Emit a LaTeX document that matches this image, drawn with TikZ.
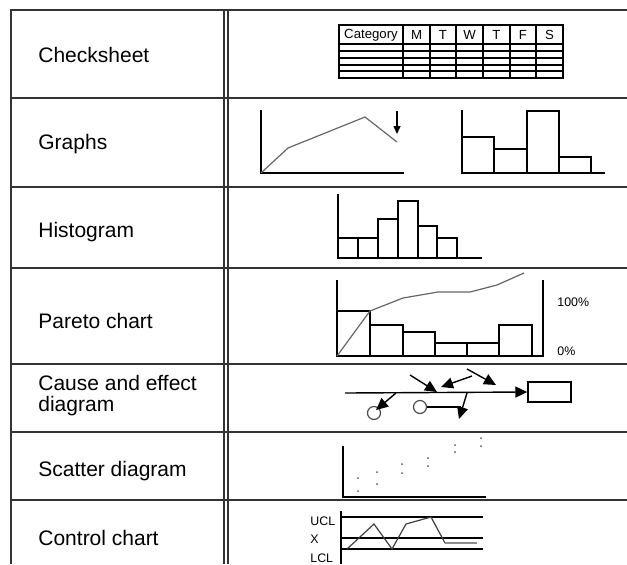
\documentclass[tikz,border=0pt]{standalone}
\usepackage{fontspec}
\setmainfont{Liberation Sans}
\usetikzlibrary{arrows.meta}

\tikzset{
  rowlabel/.style={anchor=west, inner sep=0pt, align=left, font=\fontsize{10.5}{10.5}\selectfont},
  headtext/.style={inner sep=0pt, font=\fontsize{6.6}{7}\selectfont},
  ticktext/.style={anchor=west, inner sep=0pt, font=\fontsize{6.2}{7}\selectfont},
  gridline/.style={line width=0.9pt, draw=black!80},
  chartline/.style={line width=0.7pt},
  curveline/.style={line width=0.6pt, draw=black!60},
  bigarrow/.style={line width=0.7pt, -{Triangle[length=6pt, width=5.5pt]}},
  smallarrow/.style={line width=0.7pt, -{Triangle[length=4pt, width=3.5pt]}},
}

\begin{document}
\begin{tikzpicture}[x=0.5pt, y=-0.5pt]
    \useasboundingbox (0,0) rectangle (627,564);
    % table frame
    \draw[gridline] (11,564) -- (11,10) -- (627,10);
    \draw[gridline] (224,10) -- (224,564);
    \draw[gridline] (228,10) -- (228,564);
    \foreach \y in {98,187,268,364,432,500}
        \draw[gridline] (11,\y) -- (627,\y);

    % row labels
    \node[rowlabel] (lblcheck) at (38,55) {Checksheet};
    \node[rowlabel] (lblgraph) at (38,144) {Graphs};
    \node[rowlabel] (lblhisto) at (38,232) {Histogram};
    \node[rowlabel] (lblpareto) at (38,321) {Pareto chart};
    \node[rowlabel] (lblcause) at (38,396) {Cause and effect\\diagram};
    \node[rowlabel] (lblscatter) at (38,471) {Scatter diagram};
    \node[rowlabel] (lblcontrol) at (38,538) {Control chart};

    % checksheet
    \draw[chartline] (339,25) rectangle (563,78);
    \foreach \x in {403,430,456,483,510,536}
        \draw[chartline] (\x,25) -- (\x,78);
    \foreach \y in {44,51,58,65,71}
        \draw[chartline] (339,\y) -- (563,\y);
    \node[headtext] (hcat) at (371,35) {Category};
    \node[headtext] (hmon) at (416.5,35) {M};
    \node[headtext] (htue) at (443,35) {T};
    \node[headtext] (hwed) at (469.5,35) {W};
    \node[headtext] (hthu) at (496.5,35) {T};
    \node[headtext] (hfri) at (523,35) {F};
    \node[headtext] (hsat) at (549.5,35) {S};

    % graphs: line graph
    \draw[chartline] (261,110) -- (261,173) -- (404,173);
    \draw[curveline] (261,173) -- (288,148) -- (365,117) -- (397,142);
    \draw[smallarrow] (397,111) -- (397,134);
    % graphs: bar graph
    \draw[chartline] (462,110) -- (462,173) -- (605,173);
    \draw[chartline] (462,173) rectangle (494,137);
    \draw[chartline] (494,173) rectangle (527,149);
    \draw[chartline] (527,173) rectangle (559,111);
    \draw[chartline] (559,173) rectangle (591,157);

    % histogram
    \draw[chartline] (338,194) -- (338,258) -- (482,258);
    \foreach \xa/\xb/\top in {338/358/238, 358/378/238, 378/398/219, 398/418/201, 418/437/226, 437/457/238}
        \draw[chartline] (\xa,258) rectangle (\xb,\top);

    % pareto chart
    \draw[chartline] (337,280) -- (337,356) -- (543,356) -- (543,280);
    \foreach \xa/\xb/\top in {337/370/311, 370/403/325, 403/435/332, 435/467/343, 467/499/343, 499/532/325}
        \draw[chartline] (\xa,356) rectangle (\xb,\top);
    \draw[curveline] (337,356) -- (370,311) -- (403,298) -- (438,292) -- (470,292) -- (497,285) -- (524,273);
    \node[ticktext] (pct100) at (557,302) {100\%};
    \node[ticktext] (pct0) at (557,351) {0\%};

    % cause and effect diagram
    \node[draw, line width=0.7pt, minimum width=21.5pt, minimum height=10pt, inner sep=0pt] (effect) at (549.5,392) {};
    \coordinate (tail) at (345,393);
    \draw[bigarrow] (tail) -- (effect.west);
    \node[draw, circle, line width=0.6pt, draw=black!70, minimum size=6.5pt, inner sep=0pt] (causea) at (374,413) {};
    \node[draw, circle, line width=0.6pt, draw=black!70, minimum size=6.5pt, inner sep=0pt] (causeb) at (420,407) {};
    \draw[bigarrow] (410,375) -- (437,392);
    \draw[bigarrow] (472,376) -- (441,387);
    \draw[bigarrow] (467,369) -- (496,385);
    \draw[bigarrow] (396,393) -- (376,410);
    \draw[chartline] (causeb.east) -- (461,407);
    \draw[bigarrow] (467,393) -- (459,419);

    % scatter diagram
    \draw[chartline] (343,446) -- (343,497) -- (486,497);
    \foreach \px/\py in {358/491, 358/478, 377/484, 377/472, 402/473, 402/464, 428/466, 428/458, 455/452, 455/445, 481/446, 481/438}
        \fill[black!65] (\px,\py) circle (0.5pt);

    % control chart
    \draw[chartline] (341,511) -- (341,564);
    \draw[chartline] (341,517) -- (483,517);
    \draw[chartline] (341,538) -- (483,538);
    \draw[chartline] (341,549) -- (483,549);
    \node[ticktext] (ucl) at (310,521) {UCL};
    \node[ticktext] (xbar) at (310,539) {X};
    \node[ticktext] (lcl) at (310,558) {LCL};
    \draw[curveline, draw=black!75] (347,549) -- (374,524) -- (392,549) -- (406,524) -- (431,517) -- (445,543);
    \draw[curveline, draw=black!45] (445,543) -- (477,543);
\end{tikzpicture}
\end{document}
